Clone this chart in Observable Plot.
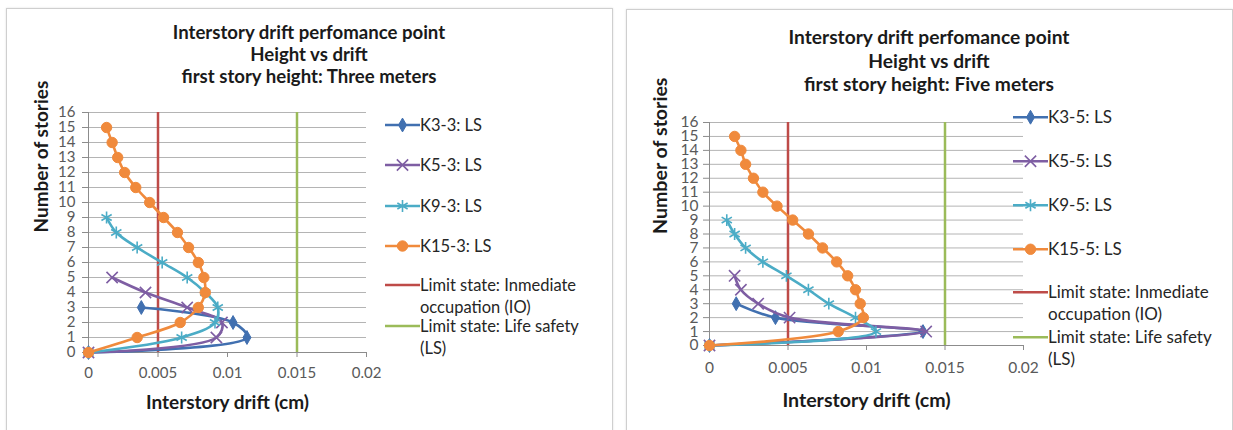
<!DOCTYPE html>
<html><head><meta charset="utf-8">
<script src="https://cdn.jsdelivr.net/npm/d3@7"></script>
<script src="https://cdn.jsdelivr.net/npm/@observablehq/plot@0.6"></script>
<style>
body{margin:0;width:1233px;height:430px;position:relative;overflow:hidden;background:#fff;font-family:Lato,"Open Sans",sans-serif;}
.panel{position:absolute;border:1px solid #cfcfcf;box-shadow:0 0 2px rgba(0,0,0,0.12);background:#fff;}
.title{position:absolute;text-align:center;font-weight:bold;color:#1a1a1a;white-space:nowrap;transform:translateX(-50%);}
.plotwrap{position:absolute;top:0;}
.legend{position:absolute;color:#262626;}
.legend .item{position:absolute;display:flex;align-items:flex-start;white-space:nowrap;}
.legend svg{flex:none;}
.legend .lab{white-space:nowrap;}
</style></head><body>
<script>
// ---------------- data ----------------
const xTicks = [0, 0.005, 0.01, 0.015, 0.02];
const yTicks = [0, 1, 2, 3, 4, 5, 6, 7, 8, 9, 10, 11, 12, 13, 14, 15, 16];

const titleLines3 = ["Interstory drift perfomance point", "Height vs drift", "first story height: Three meters"];
const titleLines5 = ["Interstory drift perfomance point", "Height vs drift", "first story height: Five meters"];
const xTitle = "Interstory drift (cm)";
const yTitle = "Number of stories";

const names3 = ["K3-3: LS", "K5-3: LS", "K9-3: LS", "K15-3: LS"];
const names5 = ["K3-5: LS", "K5-5: LS", "K9-5: LS", "K15-5: LS"];

// drift per story (index = story number, 0 = ground)
const k3_3  = [0, 0.0114, 0.0104, 0.0038];
const k5_3  = [0, 0.0092, 0.0096, 0.0071, 0.0041, 0.0017];
const k9_3  = [0, 0.0067, 0.0091, 0.0093, 0.0084, 0.0071, 0.0053, 0.0035, 0.0020, 0.0013];
const k15_3 = [0, 0.0035, 0.0066, 0.0079, 0.0084, 0.0083, 0.0079, 0.0072, 0.0064, 0.0054, 0.0044, 0.0034, 0.0026, 0.0021, 0.0017, 0.0013];

const k3_5  = [0, 0.0136, 0.0042, 0.0017];
const k5_5  = [0, 0.0138, 0.0051, 0.0031, 0.0020, 0.0016];
const k9_5  = [0, 0.0106, 0.0093, 0.0076, 0.0063, 0.0049, 0.0034, 0.0023, 0.0016, 0.0011];
const k15_5 = [0, 0.0082, 0.0098, 0.0096, 0.0093, 0.0088, 0.0081, 0.0072, 0.0063, 0.0053, 0.0043, 0.0034, 0.0028, 0.0023, 0.0020, 0.0016];

const limitNames = [["Limit state: Inmediate", "occupation (IO)"], ["Limit state: Life safety", "(LS)"]];
const limitValues = [0.005, 0.015];

// ---------------- styles ----------------
const seriesColors = ["#4170b0", "#7e5ea3", "#4bacc6", "#f08a3c"];
const seriesSymbols = ["diamond", "times", "asterisk", "circle"];
const seriesFilled = [true, false, false, true];
const seriesR = [4.2, 5.2, 5.6, 5.2];
const limitColors = ["#be4b48", "#9bbb59"];

function el(tag, cls, parent) { const e = document.createElement(tag); if (cls) e.className = cls; (parent || document.body).appendChild(e); return e; }

function drawPanel(cfg) {
  const p = el("div", "panel");
  Object.assign(p.style, {left: cfg.panel[0] + "px", top: cfg.panel[1] + "px", width: cfg.panel[2] + "px", height: "440px"});

  const t = el("div", "title");
  Object.assign(t.style, {left: cfg.titleX + "px", top: cfg.titleY + "px", fontSize: cfg.titleSize + "px"});
  cfg.title.forEach(s => { const d = el("div", "", t); d.textContent = s; d.style.height = cfg.titleLH + "px"; d.style.lineHeight = cfg.titleLH + "px"; });

  const marks = [];
  marks.push(Plot.ruleY(yTicks, {stroke: "#b4b4b4", strokeWidth: 1}));
  marks.push(Plot.ruleX([0], {stroke: "#8c8c8c", strokeWidth: 1}));
  marks.push(Plot.ruleY([0], {stroke: "#8c8c8c", strokeWidth: 1}));
  marks.push(Plot.axisY({ticks: yTicks, tickSize: 6, tickPadding: cfg.yPad, stroke: "#8c8c8c", fill: "#595959", label: null}));
  marks.push(Plot.axisX({ticks: xTicks, tickSize: 5, tickPadding: cfg.xPad, stroke: "#8c8c8c", fill: "#595959", label: null, tickFormat: d => String(d)}));
  limitValues.forEach((v, i) => {
    marks.push(Plot.ruleX([v], {y1: yTicks[0], y2: yTicks[yTicks.length - 1], stroke: limitColors[i], strokeWidth: 2.5}));
  });
  cfg.series.forEach((vals, i) => {
    const rows = vals.map((d, s) => ({story: s, drift: d}));
    marks.push(Plot.line(rows, {x: "drift", y: "story", stroke: seriesColors[i], strokeWidth: 2.6, curve: "catmull-rom"}));
    marks.push(Plot.dot(rows, {x: "drift", y: "story", symbol: () => seriesSymbols[i], r: seriesR[i],
      fill: seriesFilled[i] ? seriesColors[i] : "none", stroke: seriesColors[i], strokeWidth: seriesFilled[i] ? 1 : 1.6}));
  });
  marks.push(Plot.text([xTitle], {frameAnchor: "bottom", dy: cfg.xTitleDy, fontSize: cfg.axTitleSize, fontWeight: "bold", fill: "#1a1a1a", lineAnchor: "middle"}));
  marks.push(Plot.text([yTitle], {frameAnchor: "left", dx: cfg.yTitleDx, rotate: -90, fontSize: cfg.axTitleSize, fontWeight: "bold", fill: "#1a1a1a", lineAnchor: "middle"}));

  const svg = Plot.plot({
    width: cfg.w, height: 430,
    marginLeft: cfg.m[0], marginTop: cfg.m[1], marginRight: cfg.m[2], marginBottom: cfg.m[3],
    x: {domain: [xTicks[0], xTicks[xTicks.length - 1]]},
    y: {domain: [yTicks[0], yTicks[yTicks.length - 1]]},
    style: {background: "transparent", overflow: "visible", fontFamily: "Lato, sans-serif", fontSize: cfg.tickFont + "px"},
    marks
  });
  const w = el("div", "plotwrap");
  w.style.left = cfg.left + "px";
  w.appendChild(svg);

  // legend
  const lg = el("div", "legend");
  Object.assign(lg.style, {left: cfg.legX + "px", top: "0px", fontSize: cfg.legFont + "px"});
  const entries = [];
  cfg.names.forEach((n, i) => entries.push({lines: [n], color: seriesColors[i], sym: seriesSymbols[i], filled: seriesFilled[i], r: seriesR[i]}));
  limitNames.forEach((n, i) => entries.push({lines: n, color: limitColors[i]}));
  entries.forEach((e, k) => {
    const it = el("div", "item", lg);
    it.style.top = (cfg.legY[k] - cfg.legLH / 2) + "px";
    const sw = d3.create("svg").attr("width", cfg.swW).attr("height", cfg.legLH);
    const cy = cfg.legLH / 2;
    sw.append("line").attr("x1", 0).attr("x2", cfg.swW).attr("y1", cy).attr("y2", cy).attr("stroke", e.color).attr("stroke-width", 2.6);
    if (e.sym) {
      const sym = {diamond: d3.symbolDiamond, times: d3.symbolTimes, asterisk: d3.symbolAsterisk, circle: d3.symbolCircle}[e.sym];
      sw.append("path").attr("transform", `translate(${cfg.swW / 2},${cy})`).attr("d", d3.symbol(sym, Math.PI * e.r * e.r)())
        .attr("fill", e.filled ? e.color : "none").attr("stroke", e.color).attr("stroke-width", e.filled ? 1 : 1.6);
    }
    it.appendChild(sw.node());
    const lab = el("div", "lab", it);
    lab.style.lineHeight = cfg.legLH + "px";
    lab.innerHTML = e.lines.map(s => s.replace(/&/g, "&amp;")).join("<br>");
  });
}

drawPanel({
  panel: [6, 8, 605], title: titleLines3, titleX: 309, titleY: 21, titleSize: 18.6, titleLH: 22,
  left: 0, w: 612, m: [88, 112, 246, 78],
  yPad: 7, xPad: 10, tickFont: 15, xTitleDy: 50, yTitleDx: -47, axTitleSize: 19,
  series: [k3_3, k5_3, k9_3, k15_3], names: names3,
  legX: 385, legY: [125, 165, 206, 246, 285, 326], swW: 35, legFont: 16.5, legLH: 22
});
drawPanel({
  panel: [626, 9, 605], title: titleLines5, titleX: 929, titleY: 25, titleSize: 19.2, titleLH: 23.5,
  left: 620, w: 613, m: [89, 122, 210, 85],
  yPad: 5, xPad: 11, tickFont: 15.5, xTitleDy: 55, yTitleDx: -49, axTitleSize: 19.6,
  series: [k3_5, k5_5, k9_5, k15_5], names: names5,
  legX: 1013, legY: [117, 161, 205, 249, 292, 337], swW: 35, legFont: 17, legLH: 22.5
});
</script>
</body></html>
